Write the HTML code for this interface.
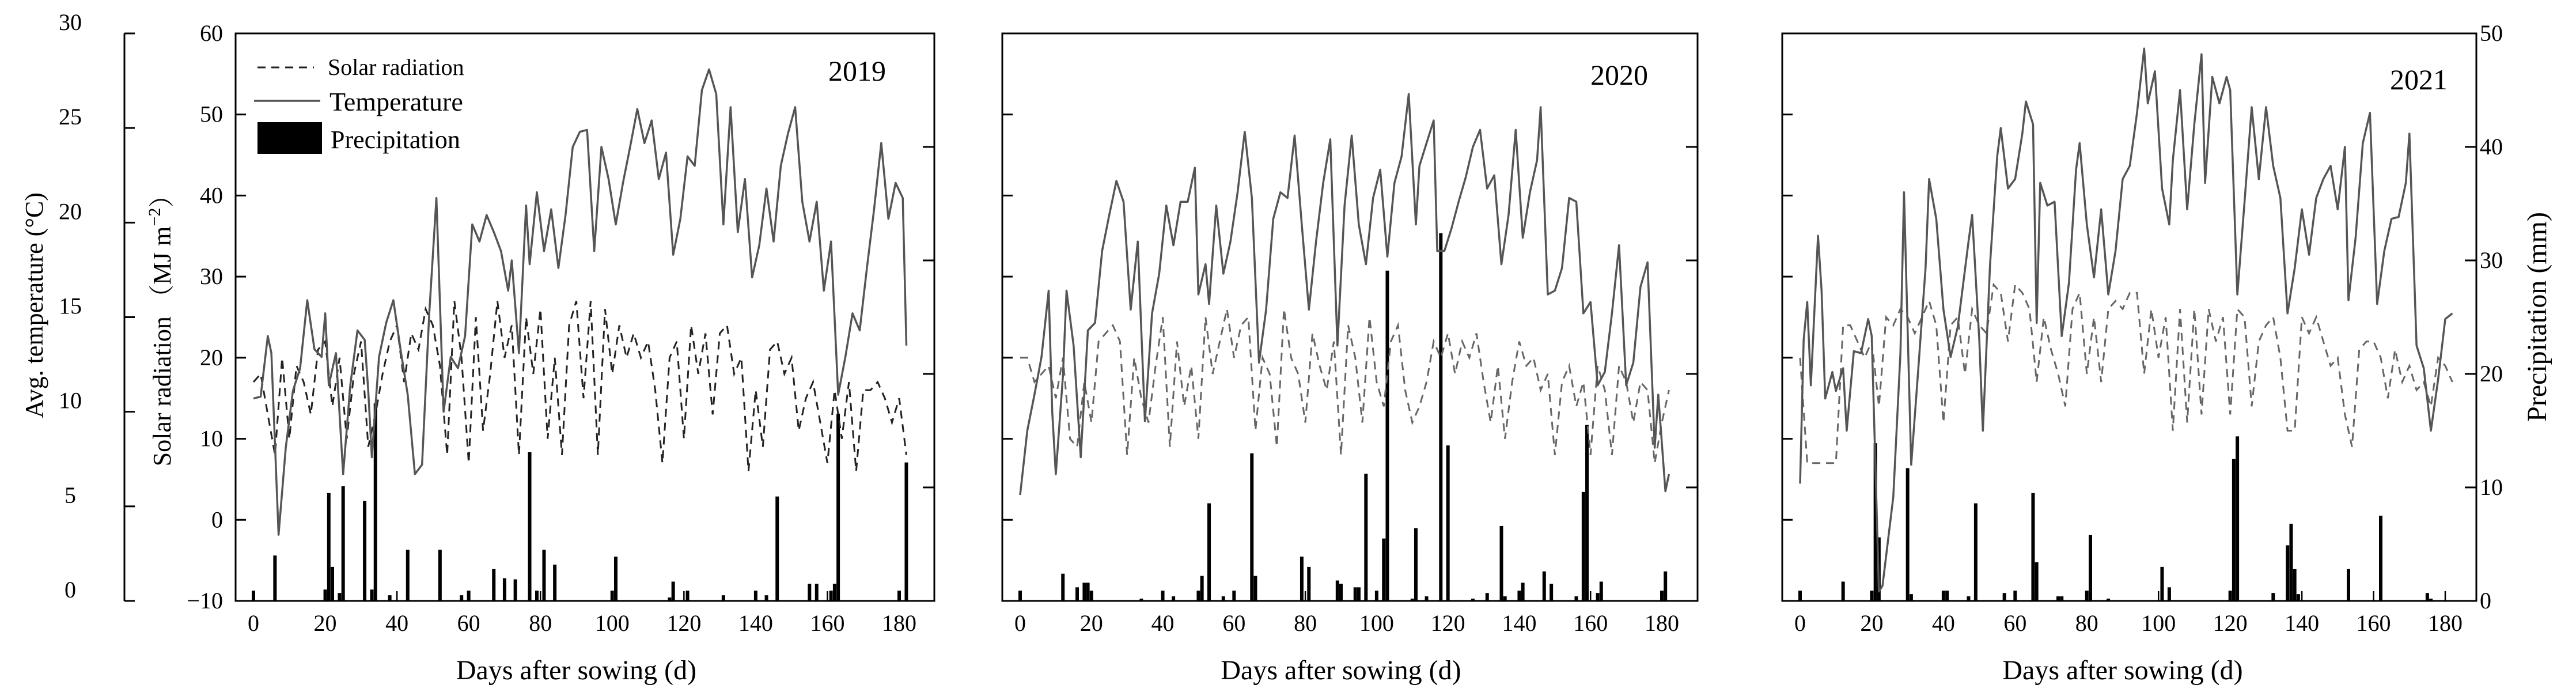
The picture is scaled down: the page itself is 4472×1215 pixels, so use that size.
<!DOCTYPE html>
<html><head><meta charset="utf-8"><style>
html,body{margin:0;padding:0;background:#fff;}
svg{display:block;font-family:"Liberation Serif","Noto Serif CJK SC",serif;}
</style></head><body>
<svg id="chart" width="4472" height="1215" viewBox="0 0 4472 1215" xmlns="http://www.w3.org/2000/svg">
<rect x="0" y="0" width="4472" height="1215" fill="#fff"/>
<g id="layer"></g>
</svg>
<script>
const dayTicks = [0,20,40,60,80,100,120,140,160,180];
const solarTicks = [60,50,40,30,20,10,0,-10];
const tempTicks = [0,5,10,15,20,25,30];
const precipTicks = [0,10,20,30,40,50];
const years = ["2019","2020","2021"];

const p1TempDays = [0,2,4,5,7,9,11,13,15,17,19,20,21,23,25,27,29,31,32,33,35,37,39,41,43,45,47,49,51,53,55,57,59,61,63,65,67,69,71,72,74,76,77,79,81,83,85,87,89,91,93,95,97,99,101,103,105,107,109,111,113,115,117,119,121,123,125,127,129,131,133,135,137,139,141,143,145,147,149,151,153,155,157,159,161,163,165,167,169,171,173,175,177,179,181,182];
const p1Temp = [10.7,10.8,14.0,13.1,3.5,8.1,11.1,12.3,15.9,13.3,12.9,15.2,11.4,13.1,6.7,11.4,14.3,13.8,11.1,7.6,12.9,14.7,15.9,13.3,10.9,6.7,7.2,15.2,21.3,10.0,12.9,12.3,14.0,19.9,19.0,20.4,19.5,18.5,16.4,18.0,13.1,20.9,17.8,21.6,18.5,20.7,17.6,20.4,24.0,24.8,24.9,18.5,24.0,22.3,19.9,22.1,24.0,26.0,24.2,25.4,22.3,23.7,18.3,20.2,23.5,23.0,27.0,28.1,26.8,19.9,26.1,19.5,22.3,17.1,18.8,21.8,19.0,23.0,24.7,26.1,21.1,19.0,21.1,16.4,19.0,10.9,12.9,15.2,14.3,17.6,20.7,24.2,20.2,22.1,21.3,13.5];
const p1Solar = [17,18,13,8,20,10,19,17,13,21,22,14,20,10,18,22,9,13,18,22,24,17,23,21,26,24,19,8,27,20,7,25,11,18,27,20,24,8,25,18,26,10,20,8,24,27,15,27,8,26,18,24,20,23,20,22,16,7,20,22,10,24,18,23,13,23,24,18,20,6,16,9,21,22,18,20,11,15,17,12,7,16,10,17,6,16,16,17,15,12,15,8];
const p1RainDays = [0,6,20,21,22,24,25,31,33,34,38,43,52,58,60,67,70,73,77,79,81,84,100,101,116,117,121,131,140,143,146,155,157,161,162,163,180,182];
const p1Rain = [0.9,4,1,9.5,3,0.7,10.1,8.8,1,17.4,0.5,4.5,4.5,0.5,0.9,2.8,2,1.9,13.1,0.9,4.5,3.2,0.9,3.9,0.3,1.7,0.9,0.5,0.9,0.5,9.2,1.5,1.5,0.9,1.5,16.5,0.9,12.2];

const p2TempDays = [0,2,4,6,8,9,10,12,13,15,17,19,21,23,25,27,29,31,33,35,37,39,41,43,45,47,49,50,52,53,55,57,59,61,63,65,67,69,71,73,75,77,79,81,83,85,87,89,91,93,95,97,99,101,103,105,107,109,111,112,114,116,117,119,121,123,125,127,129,131,133,135,137,139,141,143,145,146,148,150,152,154,156,158,160,162,164,166,168,170,172,174,176,178,179,181,182];
const p2Temp = [5.6,9.0,10.9,12.9,16.4,10.0,6.7,11.9,16.4,13.5,7.6,14.3,14.7,18.5,20.4,22.2,21.1,15.4,19.0,9.5,15.2,17.3,20.9,18.8,21.1,21.1,22.9,16.2,17.8,15.7,20.9,17.3,19.0,21.6,24.8,21.3,12.6,15.4,20.2,21.6,21.3,24.6,19.9,15.4,19.0,22.1,24.4,13.5,20.9,24.6,19.9,17.8,21.3,22.8,18.2,22.1,23.5,26.8,19.9,23.0,24.2,25.4,18.5,18.5,19.7,21.1,22.4,24.0,24.9,21.8,22.5,17.8,20.4,24.9,19.2,21.6,23.3,26.1,16.2,16.4,17.6,21.3,21.1,15.2,15.8,11.4,12.1,15.2,18.8,11.4,12.6,16.6,17.9,8.1,10.9,5.8,6.7];
const p2Solar = [20,20,17,18,19,15,20,10,9,17,12,22,23,24,22,8,20,15,12,19,25,9,22,14,19,10,25,18,22,26,20,24,25,11,20,18,9,26,20,18,12,23,19,16,22,8,24,20,12,25,17,14,22,24,16,12,14,17,22,20,23,18,22,20,23,17,12,19,10,17,22,19,20,16,18,8,17,19,14,17,8,19,16,8,19,17,12,17,16,7,12,16];
const p2RainDays = [0,12,16,18,19,20,34,40,43,50,51,53,57,60,65,66,79,81,89,90,94,95,97,100,102,103,110,111,114,118,120,127,131,135,136,140,141,147,149,156,158,159,162,163,180,181];
const p2Rain = [0.9,2.4,1.2,1.6,1.6,0.9,0.2,0.9,0.4,0.9,2.2,8.6,0.4,0.9,13,2.2,3.9,3,1.8,1.5,1.2,1.2,11.2,0.9,5.5,29.1,0.2,6.4,0.4,32.4,13.7,0.2,0.7,6.6,0.4,0.9,1.6,2.6,1.5,0.4,9.6,15.5,0.7,1.7,0.9,2.6];

const p3TempDays = [0,1,2,3,5,6,7,9,10,12,13,15,17,19,20,22,23,26,28,29,31,33,35,36,38,40,42,44,47,48,50,51,53,55,56,58,60,62,63,65,66,67,69,71,73,75,77,78,80,82,84,86,88,90,92,94,96,97,99,101,103,104,106,108,110,112,113,115,117,119,120,122,124,126,128,130,132,134,136,138,140,142,144,146,148,150,152,153,155,157,159,161,163,165,167,169,170,172,174,176,178,180,182];
const p3Temp = [6.2,13.8,15.8,11.4,19.3,16.4,10.7,12.1,11.1,12.3,9.0,13.2,13.1,14.9,14.0,0.5,0.8,5.5,13.1,21.6,7.2,12.3,17.6,22.3,20.2,15.4,12.9,14.5,19.0,20.4,13.8,9.0,17.8,23.5,25.0,21.8,22.3,24.7,26.4,25.2,14.7,22.1,20.9,21.1,14.0,16.8,22.8,24.2,19.9,17.1,20.7,16.2,18.5,22.3,23.0,25.8,29.2,26.3,28.0,21.8,19.9,23.3,27.0,20.7,25.2,28.9,22.1,27.7,26.3,27.7,27.0,16.2,21.1,26.1,22.3,26.1,23.0,21.3,15.2,17.6,20.7,18.3,21.3,22.3,23.0,20.7,24.0,15.9,19.2,24.2,25.8,15.7,18.5,20.2,20.3,22.1,24.7,13.5,12.3,9.0,11.7,14.9,15.2];
const p3Solar = [20,7,7,7,7,7,24,24,22,20,22,14,25,24,26,25,23,25,27,24,12,24,25,18,26,24,23,29,28,22,29,28,26,17,25,21,18,14,26,28,18,25,17,26,27,26,28,28,18,26,20,25,11,26,12,26,13,26,22,25,13,26,25,14,22,24,25,20,11,11,25,23,25,22,19,20,13,9,21,22,22,20,15,21,17,19,16,17,14,20,19,17];
const p3RainDays = [0,12,20,21,22,30,31,40,41,47,49,57,60,65,66,72,73,80,81,86,101,103,120,121,122,132,136,137,138,139,153,162,175,176];
const p3Rain = [0.9,1.7,0.9,13.9,5.6,11.7,0.6,0.9,0.9,0.4,8.6,0.7,0.9,9.5,3.4,0.4,0.4,0.9,5.8,0.2,3,1.2,0.9,12.5,14.5,0.7,4.9,6.8,2.8,0.6,2.8,7.5,0.7,0.2];

const panels = [
  {name:"2019", left:409, right:1622, x0:440, x180:1561, tempDays:p1TempDays, temp:p1Temp, solar:p1Solar, rainDays:p1RainDays, rain:p1Rain, solarColor:"#222", yearX:1538, yearY:140},
  {name:"2020", left:1740, right:2947, x0:1771, x180:2885, tempDays:p2TempDays, temp:p2Temp, solar:p2Solar, rainDays:p2RainDays, rain:p2Rain, solarColor:"#666", yearX:2861, yearY:147},
  {name:"2021", left:3094, right:4299, x0:3125, x180:4245, tempDays:p3TempDays, temp:p3Temp, solar:p3Solar, rainDays:p3RainDays, rain:p3Rain, solarColor:"#666", yearX:4249, yearY:155}
];

const TOP = 58, BOT = 1043, H = BOT - TOP;
const yS = s => BOT - (s + 10) * H / 70;
const yT = t => BOT - t * H / 30;
const yP = p => BOT - p * H / 50;
const NS = "http://www.w3.org/2000/svg";
const layer = document.getElementById("layer");
function mk(tag, attrs, parent) {
  const el = document.createElementNS(NS, tag);
  for (const k in attrs) el.setAttribute(k, attrs[k]);
  (parent || layer).appendChild(el);
  return el;
}

panels.forEach((p, pi) => {
  const xd = d => p.x0 + d * (p.x180 - p.x0) / 180;
  const g = mk("g", {});
  
  

  // precipitation bars
  const bars = mk("g", {}, g);
  
  
  p.rainDays.forEach((d, i) => {
    const y = yP(p.rain[i]);
    const b = mk("rect", {x: xd(d) - 3, y: y, width: 6, height: BOT - y, fill: "#000"}, bars);
    
    
  });

  // solar dashed
  const sp = p.solar.map((v, i) => xd(i * 2).toFixed(1) + "," + yS(v).toFixed(1)).join(" ");
  const sl = mk("polyline", {points: sp, fill: "none", stroke: p.solarColor, "stroke-width": 3, "stroke-dasharray": "14 10"}, g);
  
  

  // temperature
  const tp = p.temp.map((v, i) => xd(p.tempDays[i]).toFixed(1) + "," + yT(v).toFixed(1)).join(" ");
  const tl = mk("polyline", {points: tp, fill: "none", stroke: "#555", "stroke-width": 3.5, "stroke-linejoin": "round"}, g);
  
  

  // frame
  const fr = mk("rect", {x: p.left, y: TOP, width: p.right - p.left, height: H, fill: "none", stroke: "#000", "stroke-width": 3}, g);
  
  

  // left inward ticks (solar)
  solarTicks.forEach(v => {
    if (v === 60 || v === -10) return;
    const t = mk("line", {x1: p.left, x2: p.left + 18, y1: yS(v), y2: yS(v), stroke: "#000", "stroke-width": 3}, g);
    
    
  });
  // right inward ticks (precip)
  precipTicks.forEach(v => {
    if (v === 0 || v === 50) return;
    const t = mk("line", {x1: p.right - 20, x2: p.right, y1: yP(v), y2: yP(v), stroke: "#000", "stroke-width": 3}, g);
    
    
  });
  // x ticks + labels
  dayTicks.forEach(d => {
    const t = mk("line", {x1: xd(d), x2: xd(d), y1: BOT - 17, y2: BOT, stroke: "#000", "stroke-width": 2.5}, g);
    
    
    const lb = mk("text", {x: xd(d), y: 1095, "font-size": 40, "text-anchor": "middle", fill: "#000"}, g);
    lb.textContent = d;
    
    
  });
  const xt = mk("text", {x: xd(90), y: 1179, "font-size": 48, "text-anchor": "middle", fill: "#000"}, g);
  xt.textContent = "Days after sowing (d)";
  
  
  const yr = mk("text", {x: p.yearX, y: p.yearY, "font-size": 50, "text-anchor": "end", fill: "#000"}, g);
  yr.textContent = years[pi];
  
  

  if (pi === 0) {
    solarTicks.forEach(v => {
      const lb = mk("text", {x: 387, y: yS(v) + 13, "font-size": 40, "text-anchor": "end", fill: "#000"}, g);
      lb.textContent = v < 0 ? "\u2212" + (-v) : v;
      
      
    });
  }
  if (pi === 2) {
    precipTicks.forEach(v => {
      const lb = mk("text", {x: 4305, y: yP(v) + 13, "font-size": 40, "text-anchor": "start", fill: "#000"}, g);
      lb.textContent = v;
      
      
    });
  }
});

// temperature axis
const ta = mk("line", {x1: 216, x2: 216, y1: TOP, y2: BOT, stroke: "#000", "stroke-width": 3});


tempTicks.forEach(v => {
  const t = mk("line", {x1: 216, x2: 234, y1: yT(v), y2: yT(v), stroke: "#000", "stroke-width": 3});
  
  
  const lb = mk("text", {x: 122, y: yT(v) - 6, "font-size": 40, "text-anchor": "middle", fill: "#000"});
  lb.textContent = v;
  
  
});
</script>
<svg style="position:absolute;left:0;top:0" width="4472" height="1215" viewBox="0 0 4472 1215" xmlns="http://www.w3.org/2000/svg">
  <text transform="translate(74,530) rotate(-90)" font-size="44" text-anchor="middle" font-family="Liberation Serif, serif">Avg. temperature (°C)</text>
  <text transform="translate(296,563) rotate(-90)" font-size="44" text-anchor="middle" font-family="Liberation Serif, Noto Serif CJK SC, serif">Solar radiation （MJ m<tspan dy="-18" font-size="30">−2</tspan><tspan dy="18">）</tspan></text>
  <text transform="translate(4420,550) rotate(-90)" font-size="48" text-anchor="middle" font-family="Liberation Serif, serif">Precipitation (mm)</text>
  <g>
    <line x1="447" y1="117" x2="545" y2="117" stroke="#222" stroke-width="3" stroke-dasharray="14 10"/>
    <text x="569" y="130" font-size="40" font-family="Liberation Serif, serif">Solar radiation</text>
    <line x1="441" y1="175" x2="556" y2="175" stroke="#555" stroke-width="3.5"/>
    <text x="572" y="192" font-size="46" font-family="Liberation Serif, serif">Temperature</text>
    <rect x="447" y="212" width="112" height="55" fill="#000"/>
    <text x="574" y="257" font-size="44" font-family="Liberation Serif, serif">Precipitation</text>
  </g>
</svg>
</body></html>
